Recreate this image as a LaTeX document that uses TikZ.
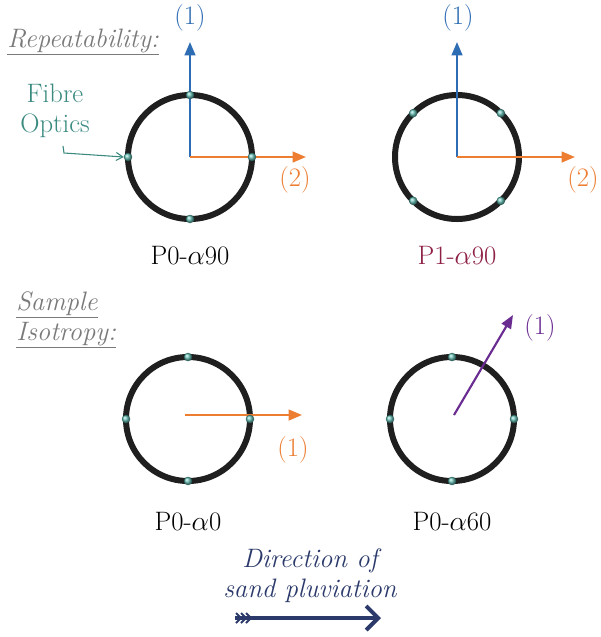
\documentclass[tikz,border=0pt]{standalone}
\usetikzlibrary{arrows.meta}
\definecolor{axblue}{HTML}{2E6DB4}
\definecolor{axorange}{HTML}{ED7D31}
\definecolor{axpurple}{HTML}{6A2C91}
\definecolor{fibre}{HTML}{3A8A80}
\definecolor{sensorc}{HTML}{6CC4BA}
\definecolor{navy}{HTML}{2B3A6B}
\definecolor{wine}{HTML}{8E1F45}
\definecolor{headgray}{HTML}{7A7A7A}
\newcommand{\alf}{\ensuremath{\alpha}}
\tikzset{
  ring/.style={circle, draw=black!88, line width=4.5pt, minimum size=93pt, inner sep=0pt, outer sep=0pt},
  sensor/.style={circle, inner sep=0pt, minimum size=6pt, ball color=sensorc, draw=fibre!70!black, line width=0.3pt},
  axis/.style={line width=1.6pt, -{Triangle[length=10pt,width=8pt]}},
  lbl/.style={font=\rmfamily\fontsize{20}{23}\selectfont},
  ilbl/.style={font=\rmfamily\itshape\fontsize{20}{23}\selectfont},
  head/.style={ilbl, text=headgray, anchor=base west, inner sep=0pt},
}
\begin{document}
\begin{tikzpicture}[x=0.75pt,y=-0.75pt]
\useasboundingbox[fill=white] (0,0) rectangle (601,637);

% headings
\node[head] (rep) at (7,47) {\underline{Repeatability:}};
\node[head] (samp) at (16,310) {\underline{Sample}};
\node[head] (iso) at (16,340) {\underline{Isotropy:}};

% ---- circle 1
\node[ring] (c1) at (190,157) {};
\coordinate (o1) at (190,157);
\coordinate (t1a) at (190,42);
\coordinate (t1b) at (306,157);
\draw[axis, axblue] (o1) -- (t1a);
\draw[axis, axorange] (o1) -- (t1b);
\foreach \a in {0,90,180,270} \node[sensor] (s1-\a) at (c1.\a) {};
\node[lbl, text=axblue] (l1a) at (190,18) {(1)};
\node[lbl, text=axorange] (l1b) at (295,180) {(2)};
\node[lbl, anchor=base] (n1) at (190,264) {P0-\alf90};

% fibre optics
\node[lbl, text=fibre, align=center, inner sep=0pt] (fo) at (55,111) {Fibre\\[-1pt]Optics};
\coordinate (fo1) at (63,146);
\coordinate (fo2) at (64,153);
\draw[fibre, line width=0.8pt, -{Straight Barb[length=5pt,width=6pt]}] (fo1) -- (fo2) -- (s1-180.west);

% ---- circle 2
\node[ring] (c2) at (457,157) {};
\coordinate (o2) at (457,157);
\coordinate (t2a) at (457,42);
\coordinate (t2b) at (575,157);
\draw[axis, axblue] (o2) -- (t2a);
\draw[axis, axorange] (o2) -- (t2b);
\foreach \a in {45,135,225,315} \node[sensor] (s2-\a) at (c2.\a) {};
\node[lbl, text=axblue] (l2a) at (458,18) {(1)};
\node[lbl, text=axorange] (l2b) at (583,180) {(2)};
\node[lbl, anchor=base, text=wine] (n2) at (457,264) {P1-\alf90};

% ---- circle 3
\node[ring] (c3) at (188,419) {};
\coordinate (o3) at (185,415);
\coordinate (t3) at (302,415);
\draw[axis, axorange] (o3) -- (t3);
\foreach \a in {0,90,180,270} \node[sensor] (s3-\a) at (c3.\a) {};
\node[lbl, text=axorange] (l3) at (293,450) {(1)};
\node[lbl, anchor=base] (n3) at (188,530) {P0-\alf0};

% ---- circle 4
\node[ring] (c4) at (452,419) {};
\coordinate (o4) at (454,415);
\coordinate (t4) at (513,315);
\draw[axis, axpurple] (o4) -- (t4);
\foreach \a in {0,90,180,270} \node[sensor] (s4-\a) at (c4.\a) {};
\node[lbl, text=axpurple] (l4) at (540,328) {(1)};
\node[lbl, anchor=base] (n4) at (452,530) {P0-\alf60};

% ---- direction of pluviation
\node[ilbl, text=navy, anchor=base] (d1) at (310,567) {Direction of};
\node[ilbl, text=navy, anchor=base] (d2) at (310,597) {sand pluviation};
\coordinate (pa) at (235,618);
\coordinate (pb) at (381,618);
\draw[navy, line width=3.2pt, -{Straight Barb[length=9pt,width=18pt,line width=3pt]}] (pa) -- (pb);
\foreach \x in {241,246,251} {
  \coordinate (fa\x) at (\x-5,613);
  \coordinate (fm\x) at (\x,618);
  \coordinate (fb\x) at (\x-5,623);
  \draw[navy, line width=1.4pt] (fa\x) -- (fm\x) -- (fb\x);
}
\end{tikzpicture}
\end{document}
